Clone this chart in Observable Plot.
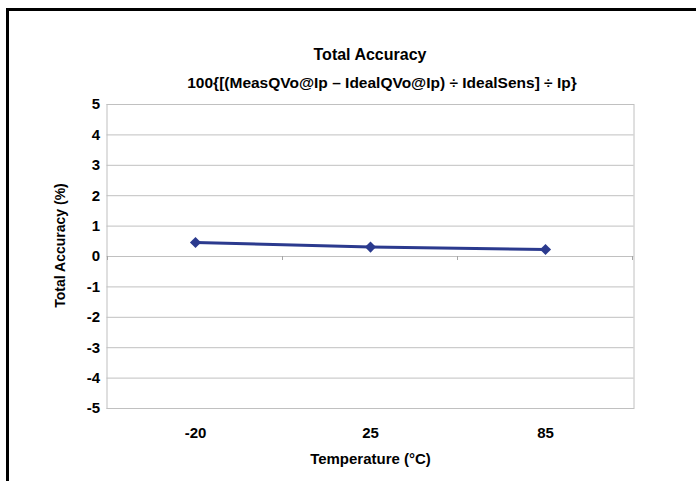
<!DOCTYPE html>
<html><head><meta charset="utf-8">
<script src="https://cdn.jsdelivr.net/npm/d3@7"></script>
<script src="https://cdn.jsdelivr.net/npm/@observablehq/plot@0.6"></script>
<style>
body{margin:0;background:#fff;font-family:"Liberation Sans",Arial,sans-serif;}
#wrap{position:relative;width:696px;height:481px;overflow:hidden;background:#fff;}
#chart{position:absolute;left:0;top:0;}
#border{position:absolute;left:6px;top:8px;right:-10px;bottom:-10px;border-left:3px solid #000;border-top:3px solid #000;pointer-events:none;}
.t{position:absolute;font-weight:bold;text-align:center;color:#000;white-space:nowrap;line-height:1;}
</style></head><body>
<div id="wrap">
<div id="chart"></div>
<div id="border"></div>
<div class="t" id="title" style="left:170px;width:400px;top:47px;font-size:16px;"></div>
<div class="t" id="sub" style="left:182px;width:400px;top:75px;font-size:15.5px;"></div>
</div>
<script>
const chartTitle = "Total Accuracy";
const chartSubtitle = "100{[(MeasQVo@Ip \u2013 IdealQVo@Ip) \u00f7 IdealSens] \u00f7 Ip}";
const temps = ["-20", "25", "85"];
const accuracy = [0.46, 0.31, 0.23];
const yTicks = [-5, -4, -3, -2, -1, 0, 1, 2, 3, 4, 5];
const xLabel = "Temperature (\u00b0C)";
const yLabel = "Total Accuracy (%)";

document.getElementById("title").textContent = chartTitle;
document.getElementById("sub").textContent = chartSubtitle;

const data = temps.map((t, i) => ({temp: t, acc: accuracy[i]}));
const lineColor = "#2b3a8e";
const gridColor = "#c0c0c0";

function boundaryTicks(index, scales) {
  const x = scales.x, y = scales.y;
  const centers = temps.map(t => x(t));
  const step = centers[1] - centers[0];
  const bounds = [centers[0] - step / 2, ...centers.map(c => c + step / 2)];
  const y0 = y(0);
  const g = d3.create("svg:g").attr("stroke", "#a6a6a6").attr("stroke-width", 1);
  for (const b of bounds) g.append("line").attr("x1", b).attr("x2", b).attr("y1", y0).attr("y2", y0 + 4);
  return g.node();
}

const plot = Plot.plot({
  width: 696,
  height: 481,
  marginLeft: 106.5,
  marginRight: 62.5,
  marginTop: 104,
  marginBottom: 73,
  style: {fontFamily: "'Liberation Sans', Arial, sans-serif", fontWeight: "bold", fontSize: "15px", color: "#000", background: "transparent", overflow: "visible"},
  x: {type: "point", domain: temps, padding: 0.5},
  y: {domain: [-5, 5]},
  marks: [
    Plot.gridY(yTicks, {stroke: gridColor, strokeOpacity: 1, strokeWidth: 1}),
    Plot.frame({stroke: gridColor, strokeWidth: 1}),
    boundaryTicks,
    Plot.axisY(yTicks, {tickSize: 0, tickPadding: 7, tickFormat: d => String(d), label: null, fontSize: 15}),
    Plot.text([yLabel], {text: d => d, frameAnchor: "left", rotate: -90, dx: -46, dy: -11, textAnchor: "middle", lineAnchor: "middle", fontSize: 14, fontWeight: "bold", fill: "#000"}),
    Plot.axisX({tickSize: 0, tickPadding: 19, label: xLabel, labelAnchor: "center", labelOffset: 55, labelArrow: false, fontSize: 15}),
    Plot.line(data, {x: "temp", y: "acc", stroke: lineColor, strokeWidth: 3}),
    Plot.dot(data, {x: "temp", y: "acc", symbol: "diamond2", r: 5, fill: lineColor, stroke: "none"})
  ]
});
document.getElementById("chart").appendChild(plot);
</script>
</body></html>
